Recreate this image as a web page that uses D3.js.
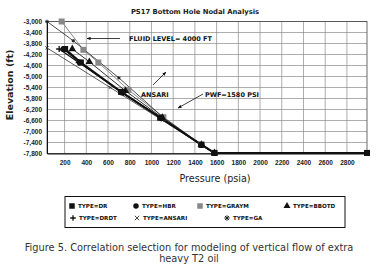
<!DOCTYPE html>
<html>
<head>
<meta charset="utf-8">
<script src="https://cdn.jsdelivr.net/npm/d3@7"></script>
<style>
  body { margin: 0; background: #fff; }
  svg { display: block; font-family: "DejaVu Sans", sans-serif; }
</style>
</head>
<body>
<div id="chart"></div>
<script>
// tick labels
const xTicks = [200, 400, 600, 800, 1000, 1200, 1400, 1600, 1800, 2000, 2200, 2400, 2600, 2800];
const yTicks = [-3000, -3400, -3800, -4200, -4600, -5000, -5400, -5800, -6200, -6600, -7000, -7400, -7800];

// series values: [pressure psia, elevation ft]
const typeDR     = [[205, -4000], [350, -4490], [720, -5560], [1080, -6500], [1460, -7480], [1580, -7780], [2985, -7780]];
const typeHBR    = [[190, -4000], [340, -4490], [726, -5580], [1090, -6510], [1460, -7490], [1580, -7780]];
const typeGRAYM  = [[173, -3000], [373, -4030], [511, -4490], [787, -5483], [1110, -6480], [1460, -7480], [1580, -7780], [2985, -7780]];
const typeBBOTD  = [[271, -4000], [428, -4465], [760, -5520], [1100, -6500], [1460, -7480], [1580, -7780]];
const typeDRDT   = [[150, -4000], [330, -4490], [740, -5600], [1090, -6510], [1460, -7490], [1580, -7780]];
const typeANSARI = [[38, -3960], [620, -5400], [1100, -6590], [1460, -7490], [1580, -7780]];
const typeGA     = [[38, -3000], [280, -3700], [700, -5050], [1100, -6460], [1460, -7480], [1580, -7780]];

const series = [
  { name: "TYPE=DR", data: typeDR, color: "#111", width: 2, symbol: "square", mColor: "#111", size: 6 },
  { name: "TYPE=HBR", data: typeHBR, color: "#111", width: 1.4, symbol: "circle", mColor: "#111", size: 6 },
  { name: "TYPE=GRAYM", data: typeGRAYM, color: "#888", width: 1, symbol: "square", mColor: "#888", size: 6 },
  { name: "TYPE=BBOTD", data: typeBBOTD, color: "#333", width: 1, symbol: "triangle", mColor: "#111", size: 6 },
  { name: "TYPE=DRDT", data: typeDRDT, color: "#111", width: 1.2, symbol: "plus", mColor: "#111", size: 6 },
  { name: "TYPE=ANSARI", data: typeANSARI, color: "#333", width: 0.8, symbol: "cross", mColor: "#333", size: 4 },
  { name: "TYPE=GA", data: typeGA, color: "#222", width: 0.8, symbol: "asterisk", mColor: "#222", size: 3.5 }
];

const W = 376, H = 274;
const plot = { left: 47, right: 367, top: 21.5, bottom: 153.5 };

const svg = d3.select("#chart").append("svg")
  .attr("width", W).attr("height", H);

const x = d3.scaleLinear().domain([38, 2985]).range([plot.left, plot.right]);
const y = d3.scaleLinear().domain([-3000, -7800]).range([plot.top, plot.bottom]);

const fmtY = d => d3.format(",")(d).replace("\u2212", "-");

// grid
svg.append("g")
  .selectAll("line")
  .data(xTicks)
  .join("line")
  .attr("x1", d => x(d)).attr("x2", d => x(d))
  .attr("y1", plot.top).attr("y2", plot.bottom)
  .attr("stroke", "#8a8a8a").attr("stroke-width", 0.7);

svg.append("g")
  .selectAll("line")
  .data(yTicks)
  .join("line")
  .attr("x1", plot.left).attr("x2", plot.right)
  .attr("y1", d => y(d)).attr("y2", d => y(d))
  .attr("stroke", "#8a8a8a").attr("stroke-width", 0.7);

svg.append("rect")
  .attr("x", plot.left).attr("y", plot.top)
  .attr("width", plot.right - plot.left).attr("height", plot.bottom - plot.top)
  .attr("fill", "none").attr("stroke", "#444").attr("stroke-width", 0.8);

// axes
const xAxis = svg.append("g")
  .attr("transform", `translate(0,${plot.bottom})`)
  .call(d3.axisBottom(x).tickValues(xTicks).tickSize(0).tickPadding(7).tickFormat(d3.format("d")));
const yAxis = svg.append("g")
  .attr("transform", `translate(${plot.left},0)`)
  .call(d3.axisLeft(y).tickValues(yTicks).tickSize(0).tickPadding(5).tickFormat(fmtY));

[xAxis, yAxis].forEach(a => {
  a.select(".domain").attr("stroke", "#111").attr("stroke-width", 1.2);
  a.selectAll("text").attr("font-size", 6.5).attr("font-weight", "bold").attr("fill", "#222")
    .attr("font-family", "Liberation Sans, Arial, sans-serif");
});
yAxis.select(".domain").attr("stroke-width", 1);

// symbols
function drawSymbol(g, type, cx, cy, color, s) {
  if (type === "square") {
    g.append("rect").attr("x", cx - s / 2).attr("y", cy - s / 2).attr("width", s).attr("height", s).attr("fill", color);
  } else if (type === "circle") {
    g.append("circle").attr("cx", cx).attr("cy", cy).attr("r", s / 2).attr("fill", color);
  } else if (type === "triangle") {
    g.append("path").attr("d", d3.symbol(d3.symbolTriangle, s * s * 0.7)()).attr("transform", `translate(${cx},${cy})`).attr("fill", color);
  } else if (type === "plus") {
    g.append("path").attr("d", `M${cx - s / 2},${cy}H${cx + s / 2}M${cx},${cy - s / 2}V${cy + s / 2}`).attr("stroke", color).attr("stroke-width", 1.3);
  } else if (type === "cross") {
    const r = s * 0.4;
    g.append("path").attr("d", `M${cx - r},${cy - r}L${cx + r},${cy + r}M${cx - r},${cy + r}L${cx + r},${cy - r}`).attr("stroke", color).attr("stroke-width", 0.9);
  } else if (type === "asterisk") {
    const r = s * 0.5;
    g.append("path").attr("d", `M${cx - r},${cy}H${cx + r}M${cx},${cy - r}V${cy + r}M${cx - r * 0.7},${cy - r * 0.7}L${cx + r * 0.7},${cy + r * 0.7}M${cx - r * 0.7},${cy + r * 0.7}L${cx + r * 0.7},${cy - r * 0.7}`).attr("stroke", color).attr("stroke-width", 1);
  }
}

const line = d3.line().x(d => x(d[0])).y(d => y(d[1]));

const lines = svg.append("g");
// draw gray / thin ones first so black thick line sits on top
const order = [2, 5, 6, 3, 1, 4, 0];
order.forEach(i => {
  const s = series[i];
  lines.append("path").datum(s.data).attr("d", line)
    .attr("fill", "none").attr("stroke", s.color).attr("stroke-width", s.width);
});
order.forEach(i => {
  const s = series[i];
  const g = lines.append("g");
  s.data.forEach(d => drawSymbol(g, s.symbol, x(d[0]), y(d[1]), s.mColor, s.size));
});

// title
svg.append("text").attr("x", 195).attr("y", 13.5).attr("text-anchor", "middle")
  .attr("font-size", 6.8).attr("font-weight", "bold").attr("fill", "#222")
  .text("PS17 Bottom Hole Nodal Analysis");

// axis labels
svg.append("text").attr("transform", "translate(13,85) rotate(-90)").attr("text-anchor", "middle")
  .attr("font-size", 9.5).attr("font-weight", "bold").attr("fill", "#222")
  .text("Elevation (ft)");
svg.append("text").attr("x", 215).attr("y", 182).attr("text-anchor", "middle")
  .attr("font-size", 9.6).attr("fill", "#222")
  .text("Pressure (psia)");

// annotations
svg.append("defs").append("marker")
  .attr("id", "arr").attr("viewBox", "0 0 10 10").attr("refX", 9).attr("refY", 5)
  .attr("markerWidth", 5).attr("markerHeight", 5).attr("orient", "auto")
  .append("path").attr("d", "M0,1L10,5L0,9Z").attr("fill", "#111");

function note(x1, y1, x2, y2) {
  svg.append("line").attr("x1", x1).attr("y1", y1).attr("x2", x2).attr("y2", y2)
    .attr("stroke", "#111").attr("stroke-width", 0.8).attr("marker-end", "url(#arr)");
}
note(120, 38.5, 87, 38.5);
note(153, 85, 166, 72);
note(203, 94, 178, 108);

svg.append("text").attr("x", 129).attr("y", 41).attr("font-size", 6.5).attr("font-weight", "bold").attr("fill", "#111")
  .text("FLUID LEVEL= 4000 FT");
svg.append("text").attr("x", 141).attr("y", 96.5).attr("font-size", 6.5).attr("font-weight", "bold").attr("fill", "#111")
  .text("ANSARI");
svg.append("text").attr("x", 205).attr("y", 96.5).attr("font-size", 6.5).attr("font-weight", "bold").attr("fill", "#111")
  .text("PWF=1580 PSI");

// legend
const legend = svg.append("g");
legend.append("rect").attr("x", 65).attr("y", 196.5).attr("width", 280).attr("height", 31)
  .attr("fill", "#fff").attr("stroke", "#111").attr("stroke-width", 1);

const legendPos = [[72, 206], [136, 206], [200, 206], [287, 206], [73, 218], [137, 218], [227, 218]];
series.forEach((s, i) => {
  const [lx, ly] = legendPos[i];
  drawSymbol(legend, s.symbol, lx, ly, s.mColor, 5.5);
  legend.append("text").attr("x", lx + 6).attr("y", ly + 2.2)
    .attr("font-size", 5.6).attr("font-weight", "bold").attr("fill", "#111").text(s.name);
});

// caption
svg.append("text").attr("x", 189).attr("y", 251).attr("text-anchor", "middle")
  .attr("font-size", 9.8).attr("fill", "#333")
  .text("Figure 5. Correlation selection for modeling of vertical flow of extra");
svg.append("text").attr("x", 189).attr("y", 262).attr("text-anchor", "middle")
  .attr("font-size", 9.8).attr("fill", "#333")
  .text("heavy T2 oil");
</script>
</body>
</html>
